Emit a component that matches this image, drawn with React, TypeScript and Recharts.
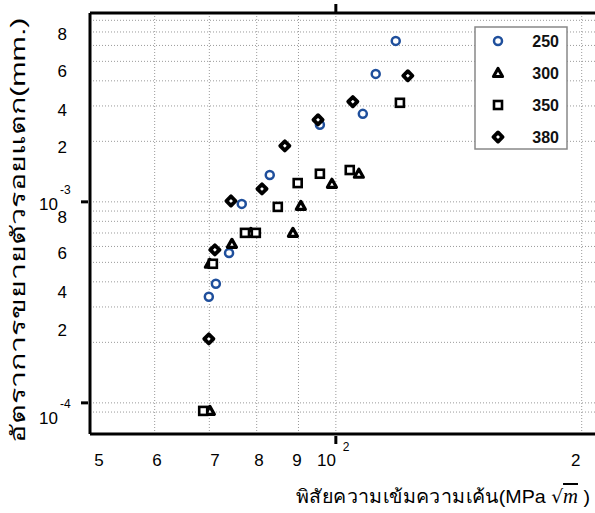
import { ScatterChart, Scatter, XAxis, YAxis, ReferenceLine, Legend } from 'recharts'

// stress intensity range (MPa√m) and crack growth rate (mm.) per load series
const k250 = [69.9, 71.3, 74.0, 76.7, 83.0, 95.6, 107.9, 111.9, 118.4]
const rate250 = [3.37e-4, 3.91e-4, 5.57e-4, 9.77e-4, 1.36e-3, 2.42e-3, 2.74e-3, 4.33e-3, 6.32e-3]

const k300 = [70.1, 70.1, 74.6, 78.7, 88.6, 90.6, 98.9, 106.7]
const rate300 = [9.12e-5, 4.92e-4, 6.18e-4, 7.01e-4, 7.01e-4, 9.55e-4, 1.23e-3, 1.38e-3]

const k350 = [68.8, 70.7, 77.4, 79.8, 84.9, 89.8, 95.6, 104.0, 119.8]
const rate350 = [9.12e-5, 4.92e-4, 7.01e-4, 7.01e-4, 9.44e-4, 1.24e-3, 1.38e-3, 1.44e-3, 3.11e-3]

const k380 = [69.9, 71.1, 74.4, 81.2, 86.6, 95.1, 104.9, 122.5]
const rate380 = [2.08e-4, 5.77e-4, 1.01e-3, 1.16e-3, 1.90e-3, 2.56e-3, 3.15e-3, 4.24e-3]

const xDomain = [50, 210]
const yDomain = [7e-5, 8.7e-3]

const xGrid = [60, 70, 80, 90, 100, 200]
const yGrid = [9e-5, 1e-4, 2e-4, 3e-4, 4e-4, 5e-4, 6e-4, 7e-4, 8e-4, 9e-4, 1e-3, 2e-3, 3e-3, 4e-3, 5e-3, 6e-3, 7e-3, 8e-3]

// tick labels sit where the original figure printed them
const xLabelValues = [51.3, 60.4, 71.1, 80.5, 89.6, 100, 196.7]
const xLabelTexts = ['5', '6', '7', '8', '9', '10', '2']
const xLabelSups = ['', '', '', '', '', '2', '']
const xMajor = [100]

const yLabelValues = [6.85e-3, 4.48e-3, 2.87e-3, 1.88e-3, 9.77e-4, 8.42e-4, 5.57e-4, 3.57e-4, 2.31e-4, 8.42e-5]
const yLabelTexts = ['8', '6', '4', '2', '10', '8', '6', '4', '2', '10']
const yLabelSups = ['', '', '', '', '-3', '', '', '', '', '-4']
const yMajor = [1e-4, 1e-3]

const yTitle = 'อัตราการขยายตัวรอยแตก(mm.)'
const xTitle = 'พิสัยความเข้มความเค้น(MPa '

const font = '"Liberation Sans", Arial, sans-serif'
const blue = '#1f4f9c'
const gridDash = '1 2'

const toPoints = (xs: number[], ys: number[]) => xs.map((x, i) => ({ x, y: ys[i] }))

const series = [
  { name: '250', kind: 'circle', data: toPoints(k250, rate250) },
  { name: '300', kind: 'triangle', data: toPoints(k300, rate300) },
  { name: '350', kind: 'square', data: toPoints(k350, rate350) },
  { name: '380', kind: 'diamond', data: toPoints(k380, rate380) },
]

function marker(kind: string, cx: number, cy: number) {
  if (kind === 'circle')
    return <circle cx={cx} cy={cy} r={4} fill="#fff" stroke={blue} strokeWidth={2.5} />
  if (kind === 'triangle')
    return (
      <polygon
        points={`${cx},${cy - 4.5} ${cx + 4.5},${cy + 3.5} ${cx - 4.5},${cy + 3.5}`}
        fill="#fff"
        stroke="#000"
        strokeWidth={3.2}
        strokeLinejoin="round"
      />
    )
  if (kind === 'square')
    return <rect x={cx - 4} y={cy - 4} width={8} height={8} fill="#fff" stroke="#000" strokeWidth={2.6} />
  return (
    <polygon
      points={`${cx},${cy - 4.6} ${cx + 4.6},${cy} ${cx},${cy + 4.6} ${cx - 4.6},${cy}`}
      fill="#fff"
      stroke="#000"
      strokeWidth={3.8}
      strokeLinejoin="round"
    />
  )
}

function XTick(props: any) {
  const { x, y, payload } = props
  const i = xLabelValues.indexOf(payload.value)
  const major = xMajor.includes(payload.value)
  const sup = i >= 0 ? xLabelSups[i] : ''
  return (
    <g>
      {major && <line x1={x} x2={x} y1={y} y2={y + 8} stroke="#000" strokeWidth={3} />}
      {i >= 0 && (
        <text x={sup ? x : x} y={y + 30} textAnchor={sup ? 'end' : 'middle'} fontSize={17} fontFamily={font} fill="#000">
          {xLabelTexts[i]}
        </text>
      )}
      {sup && (
        <text x={x + 7} y={y + 15} fontSize={12} fontFamily={font} fill="#000">
          {sup}
        </text>
      )}
    </g>
  )
}

function YTick(props: any) {
  const { x, y, payload } = props
  const i = yLabelValues.indexOf(payload.value)
  const major = yMajor.includes(payload.value)
  const sup = i >= 0 ? yLabelSups[i] : ''
  return (
    <g>
      {major && <line x1={x - 7} x2={x} y1={y} y2={y} stroke="#000" strokeWidth={3} />}
      {i >= 0 && (
        <text x={sup ? x - 30 : x - 21} y={y + 6} textAnchor="end" fontSize={17} fontFamily={font} fill="#000">
          {yLabelTexts[i]}
        </text>
      )}
      {sup && (
        <text x={x - 28} y={y - 10} fontSize={12} fontFamily={font} fill="#000">
          {sup}
        </text>
      )}
    </g>
  )
}

function LegendBox() {
  return (
    <svg width={94} height={124}>
      <rect x={1} y={1} width={92} height={122} fill="#fff" stroke="#888" strokeWidth={1.5} />
      {series.map((s, i) => (
        <g key={s.name}>
          {marker(s.kind, 24, 15 + i * 32)}
          <text x={85} y={21 + i * 32} textAnchor="end" fontSize={16} fontWeight="bold" fontFamily={font} fill="#111">
            {s.name}
          </text>
        </g>
      ))}
    </svg>
  )
}

export default function App() {
  const xTicks = [...xLabelValues]
  const yTicks = [...yLabelValues, ...yMajor]
  return (
    <div style={{ position: 'absolute', left: 0, top: 0, width: 595, height: 513, overflow: 'hidden', background: '#fff' }}>
      <ScatterChart width={610} height={513} margin={{ top: 12, right: 11, bottom: 0, left: 0 }}>
        <XAxis
          dataKey="x"
          type="number"
          scale="log"
          domain={xDomain}
          allowDataOverflow
          ticks={xTicks}
          interval={0}
          height={79}
          tickSize={0}
          tickLine={false}
          tick={(p: any) => <XTick {...p} />}
          axisLine={{ stroke: '#000', strokeWidth: 3 }}
          label={() => (
            <text x={443} y={503} textAnchor="middle" fontSize={19} fontFamily={font} fill="#000" textLength={294} lengthAdjust="spacingAndGlyphs">
              <tspan>{xTitle}</tspan>
              <tspan fontFamily="DejaVu Serif" fontSize={18}>√</tspan>
              <tspan fontFamily="Liberation Serif" fontStyle="italic" fontSize={20} textDecoration="overline">m</tspan>
              <tspan>{'  )'}</tspan>
            </text>
          )}
        />
        <XAxis
          xAxisId="top"
          dataKey="x"
          orientation="top"
          type="number"
          scale="log"
          domain={xDomain}
          allowDataOverflow
          ticks={xMajor}
          height={1}
          tickSize={9}
          tickLine={{ stroke: '#000', strokeWidth: 3 }}
          tick={() => <g />}
          axisLine={{ stroke: '#000', strokeWidth: 3 }}
        />
        <YAxis
          dataKey="y"
          type="number"
          scale="log"
          domain={yDomain}
          allowDataOverflow
          ticks={yTicks}
          interval={0}
          width={90}
          tickSize={0}
          tickLine={false}
          tick={(p: any) => <YTick {...p} />}
          axisLine={{ stroke: '#000', strokeWidth: 3 }}
          label={() => (
            <text
              transform="translate(25,230) rotate(-90)"
              textAnchor="middle"
              fontSize={20}
              fontFamily={font}
              fill="#000"
              textLength={425}
              lengthAdjust="spacingAndGlyphs"
            >
              {yTitle}
            </text>
          )}
        />
        {yGrid.map((v) => (
          <ReferenceLine key={'y' + v} y={v} stroke="#9a9a9a" strokeDasharray={gridDash} />
        ))}
        {xGrid.map((v) => (
          <ReferenceLine key={'x' + v} x={v} stroke="#9a9a9a" strokeDasharray={gridDash} />
        ))}
        <Legend
          layout="vertical"
          align="center"
          verticalAlign="middle"
          content={() => <LegendBox />}
          wrapperStyle={{ position: 'absolute', left: 474, top: 26, width: 94, height: 124 }}
        />
        {series.map((s, i) => (
          <Scatter
            key={s.name}
            name={s.name}
            data={s.data}
            xAxisId={i === series.length - 1 ? 'top' : 0}
            isAnimationActive={false}
            shape={(p: any) => marker(s.kind, p.cx, p.cy)}
          />
        ))}
      </ScatterChart>
    </div>
  )
}
